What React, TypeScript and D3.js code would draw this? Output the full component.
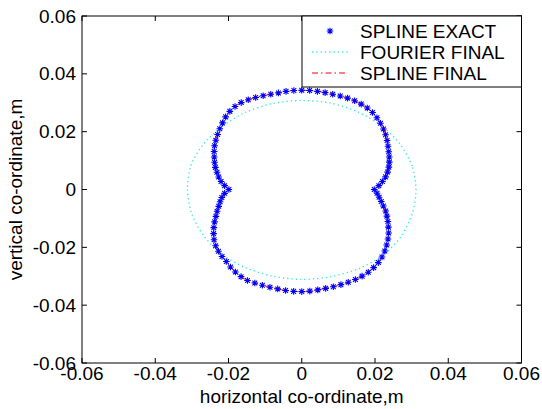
import React from 'react';
import * as d3 from 'd3';

// tick values on both axes
const xTicks = [-0.06, -0.04, -0.02, 0, 0.02, 0.04, 0.06];
const yTicks = [-0.06, -0.04, -0.02, 0, 0.02, 0.04, 0.06];

// SPLINE EXACT: radius (m) sampled every 3.6 deg, starting at +x, counter-clockwise
const exactRadius = [
  0.0198, 0.0211, 0.0222, 0.0233, 0.0242, 0.0250, 0.0257, 0.0264, 0.0271, 0.0279,
  0.0288, 0.0297, 0.0306, 0.0314, 0.0322, 0.0329, 0.0334, 0.0337, 0.0339, 0.0340,
  0.0340, 0.0340, 0.0341, 0.0342, 0.0343, 0.0343, 0.0343, 0.0342, 0.0340, 0.0340,
  0.0341, 0.0342, 0.0343, 0.0343, 0.0340, 0.0334, 0.0326, 0.0316, 0.0307, 0.0298,
  0.0290, 0.0282, 0.0273, 0.0264, 0.0256, 0.0248, 0.0239, 0.0231, 0.0222, 0.0211,
  0.0199, 0.0211, 0.0220, 0.0227, 0.0234, 0.0243, 0.0252, 0.0263, 0.0274, 0.0285,
  0.0296, 0.0305, 0.0312, 0.0318, 0.0323, 0.0331, 0.0338, 0.0344, 0.0348, 0.0348,
  0.0348, 0.0349, 0.0350, 0.0352, 0.0353, 0.0353, 0.0352, 0.0350, 0.0348, 0.0347,
  0.0346, 0.0345, 0.0344, 0.0342, 0.0339, 0.0334, 0.0328, 0.0320, 0.0311, 0.0301,
  0.0291, 0.0281, 0.0270, 0.0260, 0.0250, 0.0241, 0.0230, 0.0221, 0.0213, 0.0206
];
const exactStepDeg = 3.6;

// FOURIER FINAL: radius (m) every 15 deg
const fourierRadius = [
  0.0312, 0.0312, 0.0311, 0.0310, 0.0309, 0.0309, 0.0308, 0.0308, 0.0308, 0.0308,
  0.0311, 0.0314, 0.0312, 0.0312, 0.0312, 0.0313, 0.0311, 0.0310, 0.0311, 0.0312,
  0.0315, 0.0318, 0.0316, 0.0313
];
const fourierStepDeg = 15;

const legendLabels = ['SPLINE EXACT', 'FOURIER FINAL', 'SPLINE FINAL'];

const FONT = '"Liberation Sans", Arial, sans-serif';

function toXY(radius: number[], stepDeg: number): [number, number][] {
  return radius.map((r, i) => {
    let a = (i * stepDeg * Math.PI) / 180;
    return [r * Math.cos(a), r * Math.sin(a)] as [number, number];
  });
}

const STAR = 'M-3.3,0H3.3M0,-3.3V3.3M-2.4,-2.4L2.4,2.4M-2.4,2.4L2.4,-2.4';

function Star(props: { x: number; y: number }) {
  return <path d={STAR} transform={`translate(${props.x},${props.y})`} stroke="#0000ff" strokeWidth={1.1} fill="none" />;
}

export default function App() {
  let width = 542,
    height = 409;
  let left = 82,
    right = 521.5,
    top = 16,
    bottom = 363;

  let x = d3.scaleLinear().domain([-0.06, 0.06]).range([left, right]);
  let y = d3.scaleLinear().domain([-0.06, 0.06]).range([bottom, top]);

  let exact = toXY(exactRadius, exactStepDeg);
  let fourier = toXY(fourierRadius, fourierStepDeg);

  let line = d3
    .line<[number, number]>()
    .x((d) => x(d[0]))
    .y((d) => y(d[1]))
    .curve(d3.curveCardinalClosed.tension(0.2));

  let tickLabel = (t: number) => (t === 0 ? '0' : t.toFixed(2));
  let axisStyle = { stroke: '#000', strokeWidth: 1 };
  let tickLen = 5;
  let fs = 19;

  // legend geometry
  let lgLeft = 302,
    lgTop = 16,
    lgRight = right,
    lgBottom = 87;
  let rowY = [31, 52, 73];

  return (
    <svg width={width} height={height} style={{ position: 'absolute', left: 0, top: 0, background: '#fff' }} fontFamily={FONT}>
      <rect x={0} y={0} width={width} height={height} fill="#fff" />

      {/* curves */}
      <path d={line(fourier) || ''} fill="none" stroke="#2ee6e6" strokeWidth={1.3} strokeDasharray="1.3 3" />
      <path d={line(exact) || ''} fill="none" stroke="#ff0000" strokeWidth={1} strokeDasharray="6 3 1.5 3" />
      <g>
        {exact.map((d, i) => (
          <Star key={i} x={x(d[0])} y={y(d[1])} />
        ))}
      </g>

      {/* axes box */}
      <rect x={left} y={top} width={right - left} height={bottom - top} fill="none" style={axisStyle} />
      {xTicks.map((t, i) => (
        <g key={'xt' + i}>
          <line x1={x(t)} x2={x(t)} y1={bottom} y2={bottom - tickLen} style={axisStyle} />
          <line x1={x(t)} x2={x(t)} y1={top} y2={top + tickLen} style={axisStyle} />
          <text x={x(t)} y={380} textAnchor="middle" fontSize={fs} fill="#000">
            {tickLabel(t)}
          </text>
        </g>
      ))}
      {yTicks.map((t, i) => (
        <g key={'yt' + i}>
          <line x1={left} x2={left + tickLen} y1={y(t)} y2={y(t)} style={axisStyle} />
          <line x1={right} x2={right - tickLen} y1={y(t)} y2={y(t)} style={axisStyle} />
          <text x={76} y={y(t) + 6.5} textAnchor="end" fontSize={fs} fill="#000">
            {tickLabel(t)}
          </text>
        </g>
      ))}

      <text x={(left + right) / 2} y={403} textAnchor="middle" fontSize={fs} fill="#000">
        horizontal co-ordinate,m
      </text>
      <text transform={`translate(22,${(top + bottom) / 2}) rotate(-90)`} textAnchor="middle" fontSize={fs} fill="#000">
        vertical co-ordinate,m
      </text>

      {/* legend */}
      <rect x={lgLeft} y={lgTop} width={lgRight - lgLeft} height={lgBottom - lgTop} fill="#fff" style={axisStyle} />
      <Star x={330} y={rowY[0]} />
      <line x1={312} x2={348} y1={rowY[1]} y2={rowY[1]} stroke="#2ee6e6" strokeWidth={1.3} strokeDasharray="1.3 3" />
      <line x1={312} x2={348} y1={rowY[2]} y2={rowY[2]} stroke="#ff0000" strokeWidth={1} strokeDasharray="6 3 1.5 3" />
      {legendLabels.map((label, i) => (
        <text key={label} x={360} y={rowY[i] + 6.5} fontSize={fs} fill="#000">
          {label}
        </text>
      ))}
    </svg>
  );
}
